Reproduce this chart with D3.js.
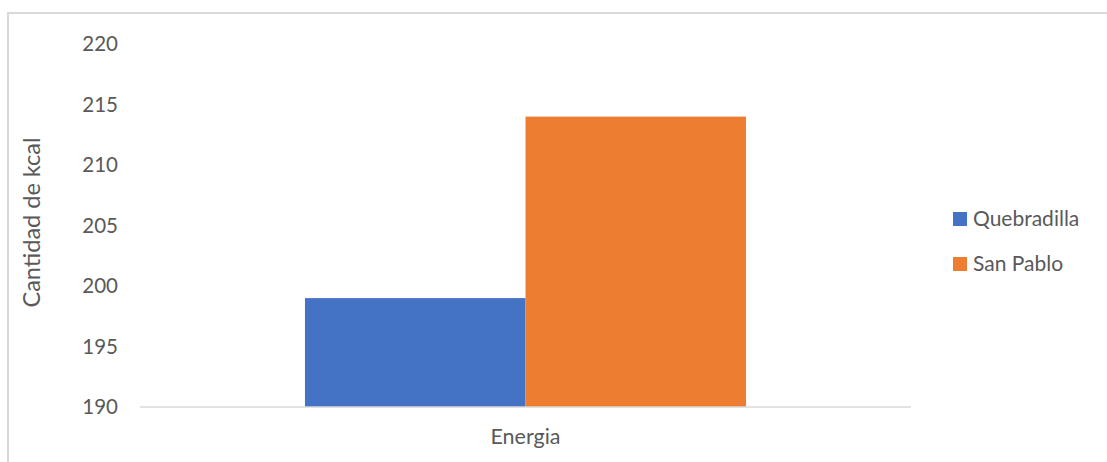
<!DOCTYPE html>
<html>
<head>
<meta charset="utf-8">
<script src="https://cdn.jsdelivr.net/npm/d3@7"></script>
<style>
  html, body { margin: 0; padding: 0; background: #fff; }
  svg { display: block; }
  text { font-family: Lato, "Open Sans", sans-serif; fill: #595959; }
</style>
</head>
<body>
<svg id="chart" width="1107" height="462"></svg>
<script>
// Energy content (kcal) per location
const categories = ["Energia"];
const seriesNames = ["Quebradilla", "San Pablo"];
const seriesValues = [[199], [214]];
const seriesColors = ["#4472c4", "#ed7d31"];
const yTicks = [190, 195, 200, 205, 210, 215, 220];
const yTitle = "Cantidad de kcal";

const svg = d3.select("#chart");
const plot = { left: 140, right: 911, top: 44, bottom: 407 };

// Outer chart frame
svg.append("rect")
  .attr("x", 8).attr("y", 13)
  .attr("width", 1120).attr("height", 470)
  .attr("fill", "none")
  .attr("stroke", "#d9d9d9")
  .attr("stroke-width", 2);

const x0 = d3.scaleBand()
  .domain(categories)
  .range([plot.left, plot.right])
  .paddingInner(0)
  .paddingOuter(0.374);

const x1 = d3.scaleBand()
  .domain(seriesNames)
  .range([0, x0.bandwidth()]);

const y = d3.scaleLinear()
  .domain([190, 220])
  .range([plot.bottom, plot.top]);

// Bars
seriesNames.forEach((name, si) => {
  svg.append("g").selectAll("rect")
    .data(categories.map((c, ci) => ({ c, v: seriesValues[si][ci] })))
    .join("rect")
    .attr("x", d => x0(d.c) + x1(name))
    .attr("y", d => y(d.v))
    .attr("width", x1.bandwidth())
    .attr("height", d => y(190) - y(d.v))
    .attr("fill", seriesColors[si]);
});

// Y axis labels
const yAxis = d3.axisLeft(y).tickValues(yTicks).tickSize(0).tickPadding(0).tickFormat(d3.format("d"));
const gy = svg.append("g").attr("transform", "translate(118,0)").call(yAxis);
gy.select(".domain").remove();
gy.selectAll("text")
  .attr("font-size", "20.5px")
  .attr("font-family", "Lato, 'Open Sans', sans-serif")
  .attr("fill", "#595959")
  .attr("dy", "0.33em");

// Category axis
const xAxis = d3.axisBottom(x0).tickSize(0).tickPadding(0);
const gx = svg.append("g").attr("transform", `translate(0,${plot.bottom})`).call(xAxis);
gx.select(".domain")
  .attr("d", `M${plot.left},0H${plot.right}`)
  .attr("stroke", "#d9d9d9")
  .attr("stroke-width", 1.5);
gx.selectAll("text")
  .attr("font-size", "21.5px")
  .attr("font-family", "Lato, 'Open Sans', sans-serif")
  .attr("fill", "#595959")
  .attr("y", 37)
  .attr("dy", 0);

// Y axis title
svg.append("text")
  .attr("transform", `translate(40,${(plot.top + plot.bottom) / 2 - 3}) rotate(-90)`)
  .attr("text-anchor", "middle")
  .attr("font-size", "23.5px")
  .text(yTitle);

// Legend
const legend = svg.append("g").selectAll("g")
  .data(seriesNames)
  .join("g")
  .attr("transform", (d, i) => `translate(953,${212 + i * 45})`);
legend.append("rect")
  .attr("width", 14).attr("height", 14)
  .attr("fill", (d, i) => seriesColors[i]);
legend.append("text")
  .attr("x", 20).attr("y", 14)
  .attr("font-size", "21px")
  .text(d => d);
</script>
</body>
</html>
